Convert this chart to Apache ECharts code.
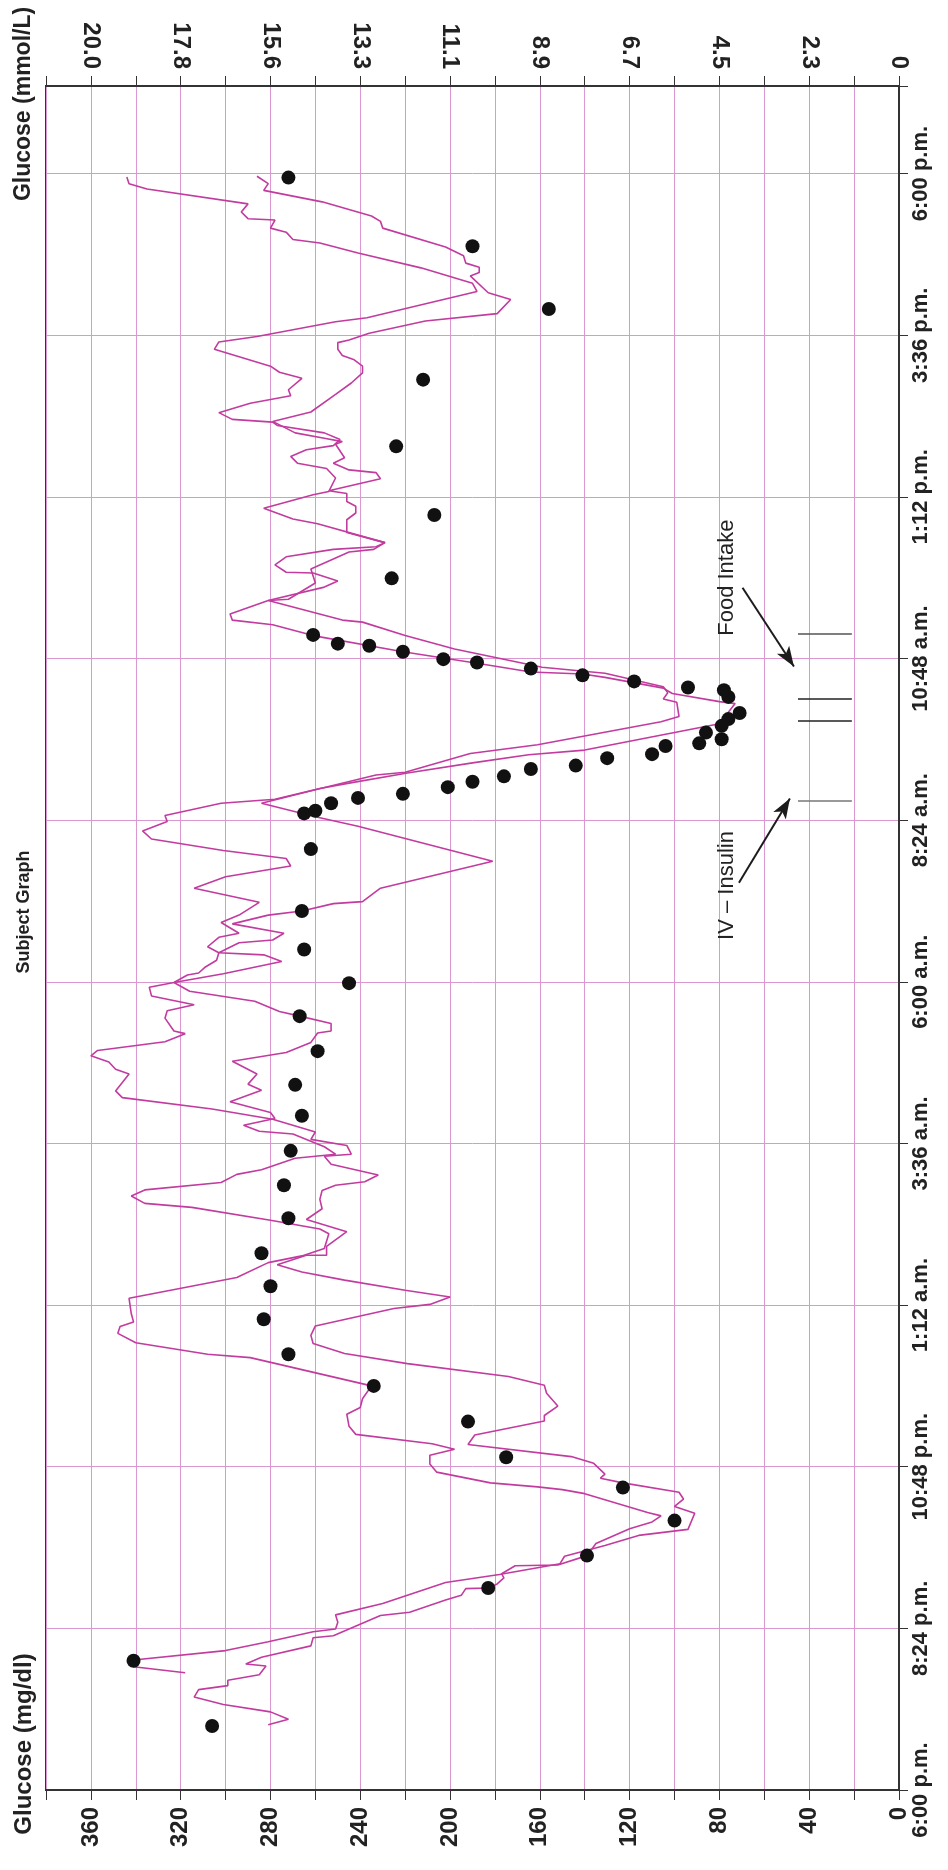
<!DOCTYPE html>
<html>
<head>
<meta charset="utf-8">
<title>Subject Graph</title>
<script src="https://cdn.jsdelivr.net/npm/echarts@6/dist/echarts.min.js"></script>
<style>
html, body { margin: 0; padding: 0; background: #fff; }
#main { width: 948px; height: 1870px; }
</style>
</head>
<body>
<div id="main"></div>
<script>
// [hours after 6:00 p.m., glucose mg/dl]
var sensorA = [[1.74,318],[1.83,341],[1.93,341],[2.07,300],[2.20,281],[2.35,261],[2.39,251],[2.49,250],[2.60,251],[2.77,230],[3.08,202],[3.20,178],[3.36,151],[3.47,149],[3.63,131],[3.78,116],[3.87,94],[4.11,91],[4.21,100],[4.32,96],[4.42,98],[4.56,123],[4.63,133],[4.69,131],[4.85,136],[4.95,146],[5.13,192],[5.27,189],[5.48,158],[5.56,158],[5.70,152],[5.89,157],[6.01,158],[6.14,174],[6.33,219],[6.48,247],[6.63,261],[6.75,262],[6.89,260],[7.15,225],[7.21,209],[7.32,200],[7.42,220],[7.57,247],[7.69,266],[7.80,277],[7.94,264],[7.94,255],[8.07,255],[8.29,246],[8.47,264],[8.63,257],[8.77,258],[8.90,257],[8.98,251],[9.03,238],[9.13,232],[9.29,253],[9.41,256],[9.44,244],[9.57,246],[9.66,262],[9.77,260],[9.96,279],[10.11,306],[10.28,346],[10.38,349],[10.63,343],[10.70,349],[10.81,352],[10.90,360],[10.98,357],[11.11,327],[11.23,318],[11.27,323],[11.46,327],[11.57,326],[11.66,314],[11.79,333],[11.92,334],[11.99,323],[12.10,317],[12.13,312],[12.22,309],[12.32,304],[12.43,303],[12.52,308],[12.66,303],[12.72,294],[12.88,302],[12.99,294],[13.18,285],[13.39,314],[13.56,300],[13.72,271],[13.83,273],[13.95,301],[14.12,333],[14.24,337],[14.38,326],[14.47,327],[14.65,302],[14.71,278],[14.87,258],[14.95,245],[15.10,219],[15.25,190],[15.37,165],[15.44,140],[15.83,80],[16.13,73],[16.16,80],[16.28,101],[16.36,105],[16.52,131],[16.57,141],[16.60,164],[16.73,188],[16.90,221],[17.14,261],[17.30,279],[17.37,297],[17.46,298],[17.66,281],[17.68,272],[17.92,260],[18.13,262],[18.38,245],[18.42,234],[18.52,229],[18.67,246],[18.86,246],[18.96,242],[19.06,242],[19.13,246],[19.25,246],[19.29,254],[19.47,231],[19.56,233],[19.60,245],[19.70,252],[19.78,247],[19.98,251],[20.02,248],[20.07,256],[20.15,269],[20.32,279],[20.46,262],[20.72,251],[20.89,244],[21.04,239],[21.14,239],[21.24,243],[21.30,248],[21.39,250],[21.49,250],[21.53,245],[21.63,236],[21.81,211],[21.92,179],[22.13,173],[22.23,183],[22.48,191],[22.53,187],[22.61,187],[22.67,193],[22.78,194],[22.91,202],[23.19,230],[23.29,231],[23.37,235],[23.58,257],[23.75,283],[23.85,281],[23.96,286]];

var sensorB = [[0.97,281],[1.05,272],[1.16,280],[1.27,301],[1.38,314],[1.49,312],[1.55,299],[1.63,299],[1.71,285],[1.84,282],[1.87,291],[1.97,284],[2.14,262],[2.26,261],[2.29,252],[2.59,231],[2.64,218],[2.82,202],[2.89,195],[2.99,193],[3.00,183],[3.06,179],[3.15,176],[3.21,177],[3.33,171],[3.34,152],[3.48,139],[3.66,135],[3.88,120],[3.98,110],[4.07,106],[4.12,112],[4.40,140],[4.46,150],[4.50,161],[4.56,182],[4.72,206],[4.84,209],[4.97,209],[5.06,198],[5.14,208],[5.28,242],[5.40,245],[5.58,246],[5.68,240],[5.81,239],[6.00,235],[6.42,289],[6.47,308],[6.64,340],[6.78,348],[6.88,347],[6.95,341],[7.07,342],[7.30,343],[7.61,295],[7.83,281],[7.93,266],[8.04,256],[8.26,254],[8.33,258],[8.46,280],[8.65,315],[8.71,336],[8.82,342],[8.91,336],[9.02,302],[9.14,295],[9.21,284],[9.38,269],[9.44,251],[9.55,256],[9.74,270],[9.78,285],[9.87,292],[9.97,278],[10.06,280],[10.22,298],[10.39,284],[10.48,290],[10.63,286],[10.82,297],[10.95,273],[11.10,262],[11.24,259],[11.27,253],[11.38,253],[11.49,267],[11.56,276],[11.71,287],[11.86,316],[11.99,323],[12.12,301],[12.30,275],[12.40,283],[12.43,303],[12.58,294],[12.62,279],[12.72,274],[12.86,297],[12.99,281],[13.05,266],[13.16,252],[13.19,239],[13.39,231],[13.79,181],[14.31,241],[14.45,260],[14.65,284],[14.85,260],[15.07,233],[15.11,220],[15.39,191],[15.52,161],[15.86,106],[15.94,98],[16.15,99],[16.20,105],[16.29,103],[16.38,105],[16.58,131],[16.67,159],[16.94,198],[17.14,220],[17.34,239],[17.37,248],[17.66,281],[17.86,256],[17.95,250],[18.07,261],[18.08,273],[18.19,278],[18.31,273],[18.42,252],[18.46,233],[18.52,229],[18.80,259],[18.87,270],[19.03,283],[19.23,261],[19.28,254],[19.48,251],[19.62,255],[19.70,268],[19.80,271],[19.90,264],[19.96,252],[20.05,249],[20.15,256],[20.26,277],[20.31,279],[20.35,297],[20.45,303],[20.59,289],[20.70,271],[20.79,272],[20.96,266],[21.05,276],[21.14,280],[21.39,305],[21.50,303],[21.58,286],[21.80,251],[21.86,237],[22.25,188],[22.37,190],[22.60,213],[22.82,241],[22.97,258],[23.02,270],[23.13,273],[23.19,280],[23.31,278],[23.33,290],[23.43,293],[23.55,290],[23.77,335],[23.85,343],[23.95,344]];

var meterReadings = [[0.95,306],[1.92,341],[3.00,183],[3.48,139],[4.00,100],[4.49,123],[4.94,175],[5.47,192],[6.00,234],[6.47,272],[6.99,283],[7.48,280],[7.97,284],[8.49,272],[8.98,274],[9.49,271],[10.01,266],[10.47,269],[10.97,259],[11.49,267],[11.98,245],[12.48,265],[13.05,266],[13.97,262],[14.50,265],[14.54,260],[14.65,253],[14.73,241],[14.79,221],[14.89,201],[14.97,190],[15.05,176],[15.16,164],[15.21,144],[15.32,130],[15.38,110],[15.50,104],[15.54,89],[15.60,79],[15.70,86],[15.80,79],[15.90,76],[15.99,71],[16.23,76],[16.33,78],[16.37,94],[16.46,118],[16.55,141],[16.65,164],[16.74,188],[16.79,203],[16.90,221],[16.99,236],[17.02,250],[17.15,261],[17.99,226],[18.93,207],[19.95,224],[20.94,212],[21.99,156],[22.92,190],[23.94,272]];

var glucoseTicks = [0, 40, 80, 120, 160, 200, 240, 280, 320, 360];
var mmolLabels = ['0', '2.3', '4.5', '6.7', '8.9', '11.1', '13.3', '15.6', '17.8', '20.0'];
var timeLabels = ['6:00 p.m.', '8:24 p.m.', '10:48 p.m.', '1:12 a.m.', '3:36 a.m.', '6:00 a.m.', '8:24 a.m.', '10:48 a.m.', '1:12 p.m.', '3:36 p.m.', '6:00 p.m.'];

// events: [hours, glucose start, glucose end]
var eventTicks = [[17.17, 45, 21], [16.20, 45, 21], [15.88, 45, 21], [14.69, 45, 21]];
var eventColors = ['#555', '#222', '#222', '#777'];
// arrows: [[hours, glucose] tail, [hours, glucose] head]
var foodArrow = [[17.85, 69.7], [16.68, 46.8]];
var insulinArrow = [[13.47, 71.3], [14.72, 48.6]];
var noteLabels = [['Food Intake', 18.0, 76.6], ['IV \u2013 Insulin', 13.43, 76.6]];

var myChart = echarts.init(document.getElementById('main'));

function toXY(list){
    return list.map(function(p){ return [p[1], p[0]]; });
}

var pink = '#db97d1';
var dark = '#333';
var labelFont = '"Liberation Sans", Arial, sans-serif';

var markLines = [];
markLines.push([
    {coord: [foodArrow[0][1], foodArrow[0][0]], symbol: 'none'},
    {coord: [foodArrow[1][1], foodArrow[1][0]], symbol: 'arrow', symbolSize: [11, 20]}
]);
markLines.push([
    {coord: [insulinArrow[0][1], insulinArrow[0][0]], symbol: 'none'},
    {coord: [insulinArrow[1][1], insulinArrow[1][0]], symbol: 'arrow', symbolSize: [11, 20]}
]);
for (var i = 0; i < eventTicks.length; i++) {
    markLines.push([
        {coord: [eventTicks[i][1], eventTicks[i][0]], symbol: 'none', lineStyle: {color: eventColors[i], width: 1.5, type: 'solid'}},
        {coord: [eventTicks[i][2], eventTicks[i][0]], symbol: 'none'}
    ]);
}

var notePoints = noteLabels.map(function(n){
    return {name: n[0], coord: [n[2], n[1]]};
});

var option = {
    animation: false,
    backgroundColor: '#fff',
    grid: {
        left: 46, right: 49, top: 86, bottom: 80,
        show: true, borderColor: dark, borderWidth: 2, backgroundColor: '#fff'
    },
    xAxis: [
        {
            type: 'value', position: 'bottom', min: 0, max: 380, interval: 20, inverse: true,
            axisLine: {show: true, lineStyle: {color: dark, width: 2}},
            axisTick: {show: true, length: 10, lineStyle: {color: dark}},
            axisLabel: {
                rotate: 90, margin: 17, fontSize: 24, fontWeight: 'bold', fontFamily: labelFont, color: '#222',
                formatter: function(v){ return glucoseTicks.indexOf(v) >= 0 ? String(v) : ''; }
            },
            splitLine: {show: true, lineStyle: {color: pink, width: 1}}
        },
        {
            type: 'value', position: 'top', min: 0, max: 380, interval: 20, inverse: true,
            axisLine: {show: true, lineStyle: {color: dark, width: 2}},
            axisTick: {show: true, length: 10, lineStyle: {color: dark}},
            axisLabel: {
                rotate: 90, margin: 17, fontSize: 24, fontWeight: 'bold', fontFamily: labelFont, color: '#222',
                formatter: function(v){
                    var k = glucoseTicks.indexOf(v);
                    return k >= 0 ? mmolLabels[k] : '';
                }
            },
            splitLine: {show: false}
        }
    ],
    yAxis: {
        type: 'value', position: 'right', min: 0, max: 25.3, interval: 2.4,
        axisLine: {show: true, lineStyle: {color: dark, width: 2}},
        axisTick: {show: true, length: 9, lineStyle: {color: dark}},
        axisLabel: {
            rotate: 90, margin: 11, fontSize: 22, fontWeight: 'bold', fontFamily: labelFont, color: '#222',
            formatter: function(v){
                var k = Math.round(v / 2.4);
                return Math.abs(v - k * 2.4) < 0.001 ? timeLabels[k] : '';
            }
        },
        splitLine: {show: true, lineStyle: {color: pink, width: 1}}
    },
    graphic: [
        {type: 'text', x: 24, y: 104, rotation: Math.PI / 2,
            style: {text: 'Glucose (mmol/L)', fontSize: 23, fontWeight: 'bold', fontFamily: labelFont, fill: '#222', align: 'center', verticalAlign: 'middle'}},
        {type: 'text', x: 24, y: 912, rotation: Math.PI / 2,
            style: {text: 'Subject Graph', fontSize: 18, fontWeight: 'bold', fontFamily: labelFont, fill: '#222', align: 'center', verticalAlign: 'middle'}},
        {type: 'text', x: 24, y: 1744, rotation: Math.PI / 2,
            style: {text: 'Glucose (mg/dl)', fontSize: 24, fontWeight: 'bold', fontFamily: labelFont, fill: '#222', align: 'center', verticalAlign: 'middle'}}
    ],
    series: [
        {
            name: 'Sensor A', type: 'line', data: toXY(sensorA),
            showSymbol: false, symbol: 'none', z: 3,
            lineStyle: {color: '#c23b9f', width: 1.6}
        },
        {
            name: 'Sensor B', type: 'line', data: toXY(sensorB),
            showSymbol: false, symbol: 'none', z: 3,
            lineStyle: {color: '#c23b9f', width: 1.6}
        },
        {
            name: 'Meter', type: 'scatter', data: toXY(meterReadings),
            symbolSize: 14, z: 5,
            itemStyle: {color: '#111', opacity: 1},
            markLine: {
                silent: true, animation: false,
                label: {show: false},
                lineStyle: {color: '#1c1c1c', width: 2, type: 'solid'},
                data: markLines
            },
            markPoint: {
                silent: true, symbol: 'circle', symbolSize: 0,
                label: {
                    show: true, position: 'inside', formatter: '{b}', rotate: 90,
                    fontSize: 22, fontFamily: labelFont, color: '#222'
                },
                data: notePoints
            }
        }
    ]
};
myChart.setOption(option);
</script>
</body>
</html>
